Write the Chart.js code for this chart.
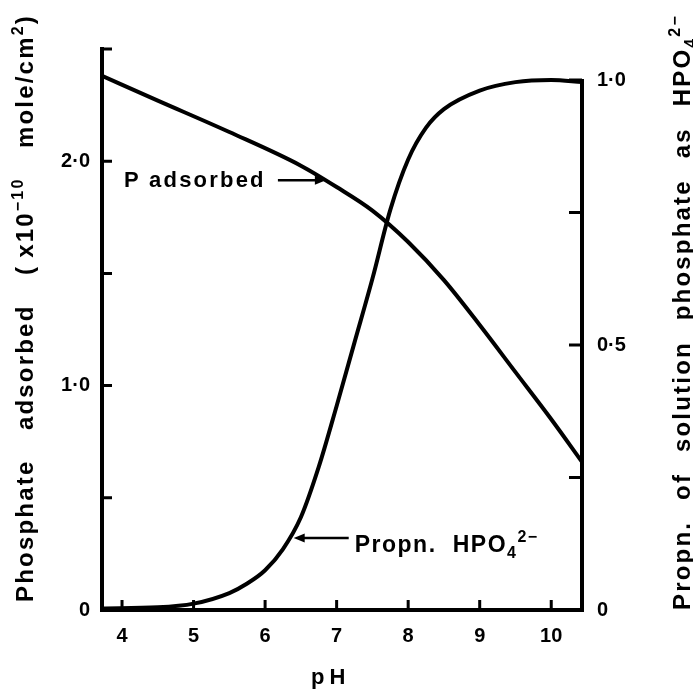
<!DOCTYPE html>
<html>
<head>
<meta charset="utf-8">
<script src="https://cdn.jsdelivr.net/npm/chart.js@4.4.1/dist/chart.umd.min.js"></script>
<style>
  html, body { margin: 0; padding: 0; background: #fff; }
  #wrap { width: 693px; height: 689px; }
</style>
</head>
<body>
<div id="wrap"><canvas id="chart" width="693" height="689"></canvas></div>
<script>
// values
const adsorbedPH = [3.72, 4.5, 5.5, 6.5, 7.0, 7.5, 8.0, 8.5, 9.0, 9.5, 10.0, 10.43];
const adsorbedP  = [2.38, 2.27, 2.13, 1.98, 1.885, 1.78, 1.64, 1.47, 1.27, 1.06, 0.85, 0.66];

const hpo4PH   = [3.72, 4.5, 5.0, 5.5, 5.75, 6.0, 6.25, 6.5, 6.75, 7.0, 7.25, 7.5, 7.75, 8.0, 8.25, 8.5, 9.0, 9.5, 10.0, 10.43];
const hpo4Frac = [0.003, 0.005, 0.012, 0.032, 0.05, 0.075, 0.115, 0.175, 0.27, 0.385, 0.505, 0.625, 0.755, 0.85, 0.91, 0.945, 0.98, 0.996, 1.0, 0.996];

// axes
const pHTicks = [4, 5, 6, 7, 8, 9, 10];
const adsorbedTicks = [0, 0.5, 1, 1.5, 2, 2.5];
const adsorbedTickLabels = ['0', '', '1·0', '', '2·0', ''];
const fracTicks = [0, 0.25, 0.5, 0.75, 1];
const fracTickLabels = ['0', '', '0·5', '', '1·0'];

const FONT = "'Liberation Sans', Arial, sans-serif";

function pairs(xs, ys) {
    return xs.map((x, i) => ({ x: x, y: ys[i] }));
}

// draws runs of text along the baseline, spreading the plain spaces to fill len
function drawRuns(ctx, runs, size, spacing, len) {
    const small = Math.round(size * 0.68);
    const chars = [];
    runs.forEach(r => {
        for (const ch of r.t) chars.push({ ch: ch, kind: r.kind || '' });
    });
    let total = 0, spaces = 0;
    chars.forEach(c => {
        ctx.font = 'bold ' + (c.kind ? small : size) + 'px ' + FONT;
        c.w = ctx.measureText(c.ch).width + spacing;
        total += c.w;
        if (c.ch === ' ') spaces++;
    });
    const extra = len && spaces ? (len - total) / spaces : 0;
    let x = 0;
    chars.forEach(c => {
        ctx.font = 'bold ' + (c.kind ? small : size) + 'px ' + FONT;
        const dy = c.kind === 'sup' ? -size * 0.42 : c.kind === 'sub' ? size * 0.25 : 0;
        ctx.fillText(c.ch, x, dy);
        x += c.w + (c.ch === ' ' ? extra : 0);
    });
}

function arrow(ctx, x1, y1, x2, y2) {
    const ang = Math.atan2(y2 - y1, x2 - x1);
    const c = Math.cos(ang), s = Math.sin(ang);
    ctx.lineWidth = 2.5;
    ctx.beginPath();
    ctx.moveTo(x1, y1);
    ctx.lineTo(x2 - 8 * c, y2 - 8 * s);
    ctx.stroke();
    ctx.beginPath();
    ctx.moveTo(x2, y2);
    ctx.lineTo(x2 - 11 * c + 4.5 * s, y2 - 11 * s - 4.5 * c);
    ctx.lineTo(x2 - 11 * c - 4.5 * s, y2 - 11 * s + 4.5 * c);
    ctx.closePath();
    ctx.fill();
}

const decor = {
    id: 'decor',
    afterDraw(chart) {
        const { ctx, chartArea: a, scales } = chart;
        const x = scales.x, yl = scales.yAds, yr = scales.yFrac;
        ctx.save();
        ctx.strokeStyle = '#000';
        ctx.fillStyle = '#000';

        // inward tick marks
        ctx.lineWidth = 3;
        ctx.beginPath();
        pHTicks.forEach(v => {
            const p = x.getPixelForValue(v);
            ctx.moveTo(p, a.bottom);
            ctx.lineTo(p, a.bottom - 10);
        });
        adsorbedTicks.forEach(v => {
            const p = yl.getPixelForValue(v);
            ctx.moveTo(a.left, p);
            ctx.lineTo(a.left + 10, p);
        });
        fracTicks.forEach(v => {
            const p = yr.getPixelForValue(v);
            ctx.moveTo(a.right, p);
            ctx.lineTo(a.right - 13, p);
        });
        ctx.stroke();

        // right axis only runs from 0 to 1
        ctx.lineWidth = 4;
        ctx.beginPath();
        ctx.moveTo(a.right, yr.getPixelForValue(0) + 2);
        ctx.lineTo(a.right, yr.getPixelForValue(1) - 1);
        ctx.stroke();

        // curve labels
        ctx.textBaseline = 'alphabetic';
        ctx.textAlign = 'left';
        const t1x = x.getPixelForValue(6.85), t1y = yl.getPixelForValue(1.915);
        arrow(ctx, t1x - 48, t1y, t1x, t1y);
        ctx.save();
        ctx.translate(t1x - 202, t1y + 7);
        drawRuns(ctx, [{ t: 'P adsorbed' }], 22, 2.2);
        ctx.restore();

        const t2x = x.getPixelForValue(6.4), t2y = yr.getPixelForValue(0.136);
        arrow(ctx, t2x + 55, t2y, t2x, t2y);
        ctx.save();
        ctx.translate(t2x + 61, t2y + 14);
        drawRuns(ctx, [{ t: 'Propn. HPO' }, { t: '4', kind: 'sub' }, { t: '2−', kind: 'sup' }], 23, 1.5, 184);
        ctx.restore();

        // axis titles
        ctx.save();
        ctx.translate(33, 602);
        ctx.rotate(-Math.PI / 2);
        drawRuns(ctx, [
            { t: 'Phosphate adsorbed (\u2009x10' }, { t: '−10', kind: 'sup' },
            { t: ' mole/cm' }, { t: '2', kind: 'sup' }, { t: ')' }
        ], 24, 2.2, 588);
        ctx.restore();

        ctx.save();
        ctx.translate(690, 610);
        ctx.rotate(-Math.PI / 2);
        drawRuns(ctx, [
            { t: 'Propn. of solution phosphate as HPO' }, { t: '4', kind: 'sub' }, { t: '2−', kind: 'sup' }
        ], 24, 2.2, 596);
        ctx.restore();

        ctx.save();
        ctx.translate(311, 684);
        drawRuns(ctx, [{ t: 'pH' }], 22, 5);
        ctx.restore();

        ctx.restore();
    }
};

const lineStyle = {
    showLine: true,
    borderColor: '#000',
    backgroundColor: '#000',
    borderWidth: 4,
    pointRadius: 0,
    pointHoverRadius: 0,
    fill: false,
    cubicInterpolationMode: 'monotone'
};

new Chart(document.getElementById('chart'), {
    type: 'scatter',
    data: {
        datasets: [
            Object.assign({ label: 'P adsorbed', data: pairs(adsorbedPH, adsorbedP), yAxisID: 'yAds' }, lineStyle),
            Object.assign({ label: 'Propn. HPO4', data: pairs(hpo4PH, hpo4Frac), yAxisID: 'yFrac' }, lineStyle)
        ]
    },
    options: {
        responsive: false,
        animation: false,
        events: [],
        layout: { padding: { top: 49, left: 0, right: 0, bottom: 0 } },
        plugins: { legend: { display: false }, tooltip: { enabled: false } },
        scales: {
            x: {
                type: 'linear',
                min: 3.72,
                max: 10.43,
                afterBuildTicks: s => { s.ticks = pHTicks.map(v => ({ value: v })); },
                afterFit: s => { s.height = 79; },
                grid: { display: false, drawTicks: false },
                border: { display: true, color: '#000', width: 4 },
                ticks: {
                    color: '#000',
                    padding: 14,
                    autoSkip: false,
                    maxRotation: 0,
                    font: { family: FONT, size: 20, weight: 'bold' }
                }
            },
            yAds: {
                type: 'linear',
                position: 'left',
                min: 0,
                max: 2.5,
                afterBuildTicks: s => { s.ticks = adsorbedTicks.map(v => ({ value: v })); },
                afterFit: s => { s.width = 102; },
                grid: { display: false, drawTicks: false },
                border: { display: true, color: '#000', width: 4 },
                ticks: {
                    color: '#000',
                    padding: 12,
                    autoSkip: false,
                    callback: (v, i) => adsorbedTickLabels[i],
                    font: { family: FONT, size: 20, weight: 'bold' }
                }
            },
            yFrac: {
                type: 'linear',
                position: 'right',
                min: 0,
                max: 1.0585,
                afterBuildTicks: s => { s.ticks = fracTicks.map(v => ({ value: v })); },
                afterFit: s => { s.width = 111; },
                grid: { display: false, drawTicks: false },
                border: { display: false },
                ticks: {
                    color: '#000',
                    padding: 15,
                    autoSkip: false,
                    callback: (v, i) => fracTickLabels[i],
                    font: { family: FONT, size: 20, weight: 'bold' }
                }
            }
        }
    },
    plugins: [decor]
});
</script>
</body>
</html>
